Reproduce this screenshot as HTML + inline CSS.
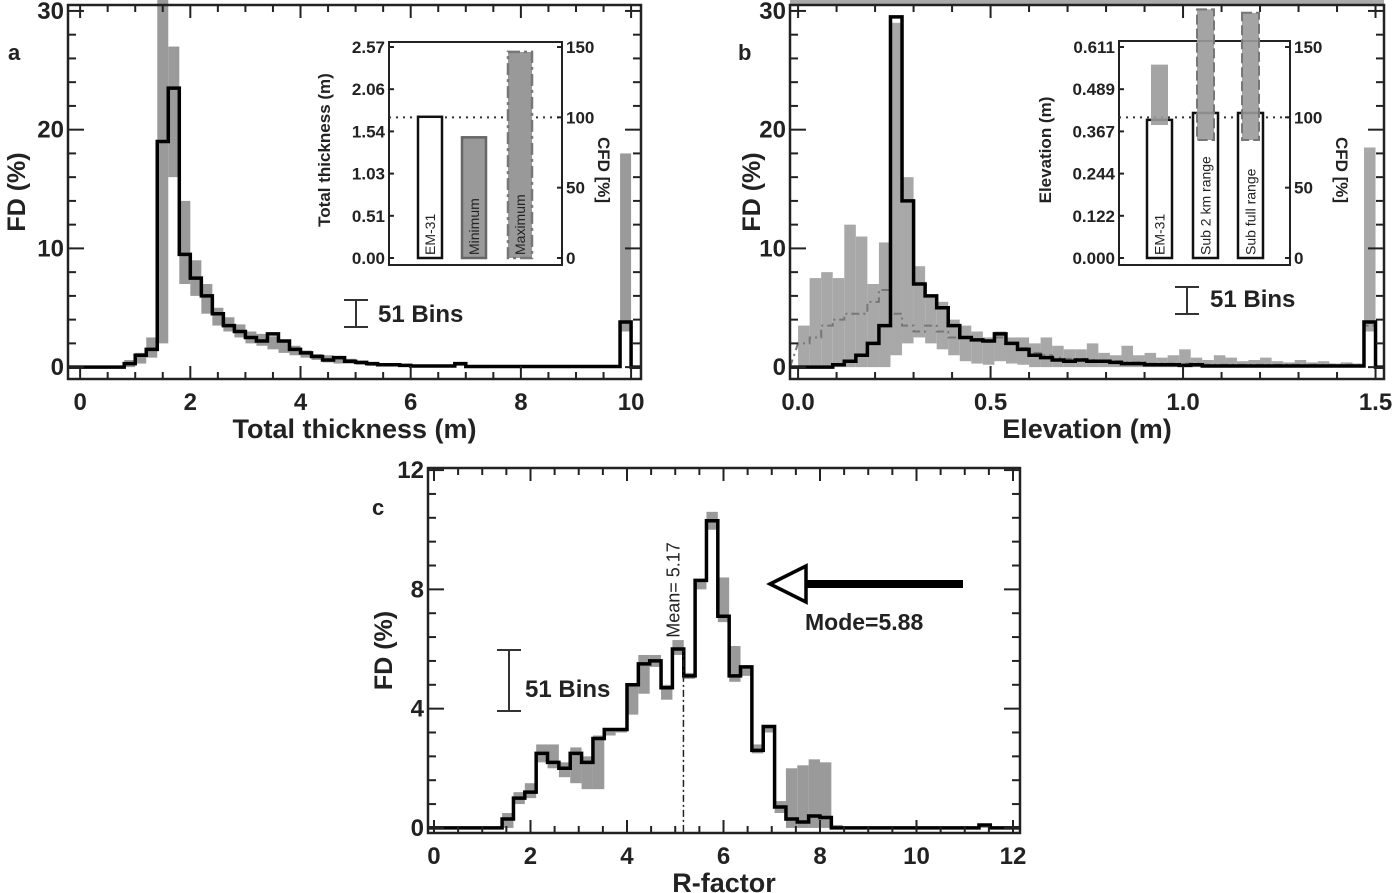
<!DOCTYPE html>
<html><head><meta charset="utf-8"><style>
html,body{margin:0;padding:0;background:#fff;}
svg{display:block;font-family:"Liberation Sans",Arial,sans-serif;font-weight:bold;}
</style></head><body>
<svg id="fig" width="1400" height="893" viewBox="0 0 1400 893" xmlns="http://www.w3.org/2000/svg"></svg>
<script>
// ---------- data ----------
const aBinWidth = 0.2;
const aEm31 = [0,0,0,0,0.3,1,1.5,19,23.5,9.5,7.5,6,4.5,3.5,3,2.5,2.2,2.8,2.2,1.5,1.2,0.9,0.6,0.8,0.5,0.4,0.3,0.2,0.2,0.15,0.1,0.1,0.1,0.1,0.3,0.05,0.05,0.05,0.05,0.05,0.05,0.05,0.05,0.05,0.05,0.05,0.05,0.05,0.05,3.8];
const aMax = [0,0,0,0,0.6,1.2,2.5,31,27,14,9,7,5,4.2,3.6,3,2.8,2.6,2.3,1.8,1.4,1.1,1,0.8,0.7,0.5,0.4,0.3,0.3,0.25,0.2,0.2,0.2,0.2,0.25,0.15,0.15,0.15,0.15,0.15,0.15,0.15,0.15,0.15,0.15,0.15,0.15,0.15,0.15,18];
const aMin = [0,0,0,0,0,0.3,0.8,2,16,7,6,4.5,3.5,3,2.5,2,1.8,1.5,1.2,1,0.8,0.6,0.4,0.3,0.3,0.2,0.1,0.1,0.1,0.1,0.1,0.1,0.1,0.1,0.1,0.05,0.05,0.05,0.05,0.05,0.05,0.05,0.05,0.05,0.05,0.05,0.05,0.05,0.05,3];
const aXTicks = [0,2,4,6,8,10];
const aYTicks = [0,10,20,30];

const bBinWidth = 0.03;
const bEm31 = [0,0,0,0.2,0.5,1,2,3.5,29.5,14,7,6,5,3.5,2.5,2.3,2.2,2.8,2,1.5,1,0.8,0.6,0.5,0.6,0.5,0.5,0.4,0.3,0.3,0.2,0.2,0.2,0.15,0.2,0.1,0.1,0.1,0.1,0.1,0.1,0.1,0.1,0.1,0.1,0.1,0.1,0.1,0.1,3.8];
const bMax = [3.5,7.5,8,7.5,12,11,7,10.5,29,16,8.5,6,5.5,4,3.5,3,2.5,3,2.5,2.5,2,2.5,1.8,1.5,1.5,2,1.2,1,1.8,1,1.2,0.8,1,1.5,0.8,0.6,1,0.8,0.5,0.6,0.8,0.5,0.4,0.6,0.4,0.5,0.3,0.4,0.3,18.5];
const bMin = [0,0,0,0,0,0,0,0,1,2,2.5,2,1.5,1,0.5,0.3,0.2,0.5,0.3,0.2,0,0,0,0,0,0,0,0,0,0,0,0,0,0,0,0,0,0,0,0,0,0,0,0,0,0,0,0,0,3];
const bSub = [2,2.5,3.5,4,4.5,4.5,5.5,6.5,4.5,3.5,3,3.5,3,2.5,2.5,2.3,2.2,2.5,2,1.6,1.2,1,0.8,0.7,0.7,0.6,0.5,0.5,0.4,0.4,0.3,0.3,0.3,0.3,0.3,0.2,0.2,0.2,0.2,0.2,0.2,0.2,0.2,0.2,0.2,0.2,0.2,0.2,0.2,3.5];
const bXTicks = [0,0.5,1.0,1.5];
const bXTickLabels = ["0.0","0.5","1.0","1.5"];
const bYTicks = [0,10,20,30];

const cBinWidth = 12/51;
const cEm31 = [0,0,0,0,0,0,0.3,1,1.2,2.5,2.2,2,2.5,2.2,3,3.3,3.3,4.8,5.5,5.6,4.7,6,5.1,8.3,10.3,7.1,5.1,5.4,2.6,3.4,0.7,0.3,0.2,0.4,0.35,0,0,0,0,0,0,0,0,0,0,0,0,0,0.1,0,0];
const cMax = [0,0,0,0,0,0,0.5,1.2,1.5,2.8,2.8,2.2,2.7,2.4,3.1,3.3,3.3,4.8,5.8,5.8,4.8,6.3,5.2,8.3,10.6,8.4,6.1,5.4,2.8,3.4,0.9,2,2.1,2.3,2.2,0.1,0,0,0,0,0,0,0,0,0,0,0,0,0.1,0,0];
const cMin = [0,0,0,0,0,0,0,0.8,1,2.2,2,1.7,1.5,1.3,1.3,3.1,3.2,3.8,4.5,5.4,4.3,5.8,5,8,10,6.9,4.9,5.1,2.5,3.2,0.5,0,0,0,0,0,0,0,0,0,0,0,0,0,0,0,0,0,0,0,0];
const cXTicks = [0,2,4,6,8,10,12];
const cYTicks = [0,4,8,12];
const cMean = 5.17;
const cMode = 5.88;

const insetAValues = [1.72,1.47,2.51];
const insetALabels = ["EM-31","Minimum","Maximum"];
const insetATicks = ["0.00","0.51","1.03","1.54","2.06","2.57"];
const insetBValues = [0.40,0.42,0.42];
const insetBGrey = [0.56,0.72,0.71];
const insetBLabels = ["EM-31","Sub 2 km range","Sub full range"];
const insetBTicks = ["0.000","0.122","0.244","0.367","0.489","0.611"];
const cfdTicks = [0,50,100,150];

// ---------- helpers ----------
const NS="http://www.w3.org/2000/svg";
const svg=document.getElementById('fig');
function el(tag,attrs,parent){const e=document.createElementNS(NS,tag);for(const k in attrs)e.setAttribute(k,attrs[k]);(parent||svg).appendChild(e);return e;}
function txt(s,attrs,parent){const e=el('text',attrs,parent);e.textContent=s;return e;}
function scale(d0,d1,r0,r1){return v=>r0+(v-d0)/(d1-d0)*(r1-r0);}

function panel(id,cfg){
  const g=el('g',{});
  
  
  const X=scale(cfg.xmin,cfg.xmax,cfg.L,cfg.R), Y=scale(cfg.ymin,cfg.ymax,cfg.B,cfg.T);
  const cp=el('clipPath',{id:'clip-'+id},g);
  el('rect',{x:cfg.L,y:cfg.T-30,width:cfg.R-cfg.L,height:cfg.B-cfg.T+30},cp);
  const plot=el('g',{'clip-path':'url(#clip-'+id+')'},g);
  for(let i=0;i<cfg.hi.length;i++){
    const x0=X(cfg.x0+i*cfg.bw), x1=X(cfg.x0+(i+1)*cfg.bw);
    const yh=Y(cfg.hi[i]), yl=Y(cfg.lo[i]);
    if(yl-yh<0.5) continue;
    const r=el('rect',{x:x0,y:yh,width:x1-x0,height:yl-yh,fill:cfg.band||'#9a9a9a'},plot);
    
    
  }
  function stepPath(vals,stroke,w,dash,name){
    let d='M'+X(cfg.xmin)+','+Y(0);
    let xe=0;
    for(let i=0;i<vals.length;i++){
      const x0=X(cfg.x0+i*cfg.bw), x1=X(cfg.x0+(i+1)*cfg.bw);
      d+=' L'+x0+','+Y(vals[i])+' L'+x1+','+Y(vals[i]);
      xe=x1;
    }
    d+=' L'+xe+','+Y(0)+' L'+X(cfg.xmax)+','+Y(0);
    const p=el('path',{d:d,fill:'none',stroke:stroke,'stroke-width':w,'stroke-linejoin':'miter'},plot);
    if(dash)p.setAttribute('stroke-dasharray',dash);
    
    
  }
  if(cfg.extra) stepPath(cfg.extra,'#777',2,'8,4,2,4',id+'-sub-line');
  stepPath(cfg.line,'#000',cfg.lw||3.5,null,id+'-em31-line');
  const f=el('rect',{x:cfg.L,y:cfg.T,width:cfg.R-cfg.L,height:cfg.B-cfg.T,fill:'none',stroke:'#222','stroke-width':2.5},g);
  
  
  const tk=el('g',{stroke:'#222','stroke-width':2},g);
  for(let v=cfg.xmin;v<=cfg.xmax+1e-9;v+=cfg.xminor){}
  const xs=Math.ceil(cfg.xmin/cfg.xminor);
  for(let k=xs;k*cfg.xminor<=cfg.xmax+1e-9;k++){
    const v=k*cfg.xminor;
    const major=cfg.xticks.some(t=>Math.abs(t-v)<1e-6), len=major?13:7, x=X(v);
    if(x<cfg.L+1||x>cfg.R-1)continue;
    el('line',{x1:x,y1:cfg.B,x2:x,y2:cfg.B-len},tk);el('line',{x1:x,y1:cfg.T,x2:x,y2:cfg.T+len},tk);
  }
  for(let k=0;k*cfg.yminor<=cfg.ymax+1e-9;k++){
    const v=k*cfg.yminor;
    const major=cfg.yticks.some(t=>Math.abs(t-v)<1e-6), len=major?16:8, y=Y(v);
    if(y<cfg.T+1)continue;
    el('line',{x1:cfg.L,y1:y,x2:cfg.L+len,y2:y},tk);el('line',{x1:cfg.R,y1:y,x2:cfg.R-len,y2:y},tk);
  }
  cfg.xticks.forEach((t,i)=>{const s=cfg.xlabels?cfg.xlabels[i]:String(t);
    const e=txt(s,{x:X(t),y:cfg.B+31,'text-anchor':'middle','font-size':24,fill:'#222'},g);
    });
  cfg.yticks.forEach(t=>{
    const e=txt(String(t),{x:cfg.L-4,y:Y(t)+8,'text-anchor':'end','font-size':24,fill:'#222'},g);
    });
  const xt=txt(cfg.xtitle,{x:(cfg.L+cfg.R)/2,y:cfg.B+59,'text-anchor':'middle','font-size':27,fill:'#222'},g);
  
  const yt=txt('FD (%)',{x:0,y:0,'text-anchor':'middle','font-size':25,fill:'#222',transform:'translate('+cfg.ytx+','+((cfg.T+cfg.B)/2)+') rotate(-90)'},g);
  
  const pl=txt(id,{x:cfg.plx,y:cfg.ply,'font-size':22,fill:'#222'},g);
  
  return {g,X,Y};
}

function binsMarker(x,y1,y2,tx,ty){
  const g=el('g',{stroke:'#333','stroke-width':2});
  
  
  el('line',{x1:x,y1:y1,x2:x,y2:y2},g);el('line',{x1:x-12,y1:y1,x2:x+12,y2:y1},g);el('line',{x1:x-12,y1:y2,x2:x+12,y2:y2},g);
  const t=txt('51 Bins',{x:tx,y:ty,'font-size':24,fill:'#222',stroke:'none'});
  
}

// ---------- panel a ----------
panel('a',{L:68,R:641,T:5,B:379,xmin:-0.22,xmax:10.18,ymin:-1,ymax:30.5,x0:0,bw:aBinWidth,
  line:aEm31,hi:aMax,lo:aMin,xticks:aXTicks,yticks:aYTicks,xminor:0.5,yminor:2,
  xtitle:'Total thickness (m)',ytx:25,plx:8,ply:60});
binsMarker(356,300,327,378,322);

// ---------- panel b ----------
el('rect',{x:790,y:0,width:594,height:4,fill:'#aaa'});
panel('b',{L:790,R:1384,T:5,B:379,xmin:-0.021,xmax:1.522,ymin:-1,ymax:30.5,x0:0,bw:bBinWidth,
  line:bEm31,hi:bMax,lo:bMin,extra:bSub,band:'#a8a8a8',xticks:bXTicks,xlabels:bXTickLabels,yticks:bYTicks,xminor:0.1,yminor:2,
  xtitle:'Elevation (m)',ytx:760,plx:738,ply:60});
binsMarker(1187,287,314,1210,307);

// ---------- panel c ----------
const pc=panel('c',{L:428,R:1020,T:468,B:833,xmin:-0.124,xmax:12.145,ymin:-0.17,ymax:12.07,x0:0,bw:cBinWidth,
  line:cEm31,hi:cMax,lo:cMin,xticks:cXTicks,yticks:cYTicks,xminor:0.5,yminor:0.8,
  xtitle:'R-factor',ytx:392,plx:372,ply:515});
binsMarker(509,650,711,525,697);
(function(){
  const x=pc.X(cMean);
  const ml=el('line',{x1:x,y1:pc.Y(0)+4,x2:x,y2:650,stroke:'#222','stroke-width':1.5,'stroke-dasharray':'7,3,2,3'});
  
  const mt=txt('Mean= 5.17',{x:0,y:0,'font-size':18,'font-weight':'normal',fill:'#222','text-anchor':'middle',transform:'translate('+(x-4)+',590) rotate(-90)'});
  
  const ar=el('g',{});
  
  el('line',{x1:963,y1:584,x2:802,y2:584,stroke:'#000','stroke-width':8},ar);
  el('polygon',{points:'770,584 806,566 806,602',fill:'#fff',stroke:'#000','stroke-width':3.5},ar);
  const mo=txt('Mode='+cMode.toFixed(2),{x:805,y:630,'font-size':23,fill:'#222'});
  
})();

// ---------- insets ----------
function inset(id,cfg){
  const g=el('g',{});
  
  
  const Y=scale(0,cfg.vmax,258,47);
  el('rect',{x:cfg.L,y:cfg.T,width:cfg.R-cfg.L,height:265-cfg.T,fill:'#fff',stroke:'none'},g);
  el('rect',{x:cfg.L,y:cfg.T,width:cfg.R-cfg.L,height:265-cfg.T,fill:'none',stroke:'#222','stroke-width':2},g);
  const dl=el('line',{x1:cfg.L,y1:Y(cfg.vmax*100/150),x2:cfg.R,y2:Y(cfg.vmax*100/150),stroke:'#333','stroke-width':2,'stroke-dasharray':'2,5'},g);
  
  cfg.values.forEach((v,i)=>{
    const r=el('rect',{x:cfg.bx[i],y:Y(v),width:cfg.bw,height:Y(0)-Y(v),fill:cfg.fills[i],stroke:cfg.strokes[i],'stroke-width':2.5},g);
    if(cfg.dash[i])r.setAttribute('stroke-dasharray',cfg.dash[i]);
    
  });
  if(cfg.grey){
    cfg.grey.forEach((gv,i)=>{const gx=cfg.bx[i]+4,gw=cfg.bw-8;
      const bot=i?140:125;
      const r=el('rect',{x:gx,y:Y(gv),width:gw,height:bot-Y(gv),fill:'#9a9a9a','fill-opacity':0.9},g);
      if(i>0){r.setAttribute('stroke','#777');r.setAttribute('stroke-dasharray','10,4');r.setAttribute('stroke-width',2);}
      });
  }
  cfg.values.forEach((v,i)=>{
    const t=txt(cfg.labels[i],{x:0,y:0,'font-size':14,'font-weight':'normal',fill:'#222',transform:'translate('+(cfg.bx[i]+cfg.bw/2+5)+',255) rotate(-90)'},g);
    
  });
  cfg.ticks.forEach((s,i)=>{const y=258-i*(211/5);
    el('line',{x1:cfg.L,y1:y,x2:cfg.L+5,y2:y,stroke:'#222','stroke-width':2},g);
    const t=txt(s,{x:cfg.L-4,y:y+6,'text-anchor':'end','font-size':17,fill:'#222'},g);
    });
  cfdTicks.forEach(v=>{const y=258-v/150*211;
    el('line',{x1:cfg.R,y1:y,x2:cfg.R-5,y2:y,stroke:'#222','stroke-width':2},g);
    const t=txt(String(v),{x:cfg.R+4,y:y+6,'font-size':17,fill:'#222'},g);
    });
  const lt=txt(cfg.title,{x:0,y:0,'text-anchor':'middle','font-size':17,fill:'#222',transform:'translate('+cfg.tx+',150) rotate(-90)'},g);
  
  const rt=txt('CFD [%]',{x:0,y:0,'text-anchor':'middle','font-size':17,fill:'#222',transform:'translate('+cfg.cx+',170) rotate(90)'},g);
  
}
inset('inset-a',{L:389,R:562,T:42,vmax:2.57,values:insetAValues,labels:insetALabels,ticks:insetATicks,
  bx:[418,462,508],bw:24,fills:['#fff','#999','#999'],strokes:['#111','#666','#777'],dash:[null,null,'12,4,3,4'],
  title:'Total thickness (m)',tx:330,cx:598});
inset('inset-b',{L:1119,R:1290,T:41,vmax:0.611,values:insetBValues,grey:insetBGrey,labels:insetBLabels,ticks:insetBTicks,
  bx:[1147,1193,1238],bw:25,fills:['#fff','#fff','#fff'],strokes:['#111','#111','#111'],dash:[null,null,null],
  title:'Elevation (m)',tx:1051,cx:1336});
</script>
</body></html>
